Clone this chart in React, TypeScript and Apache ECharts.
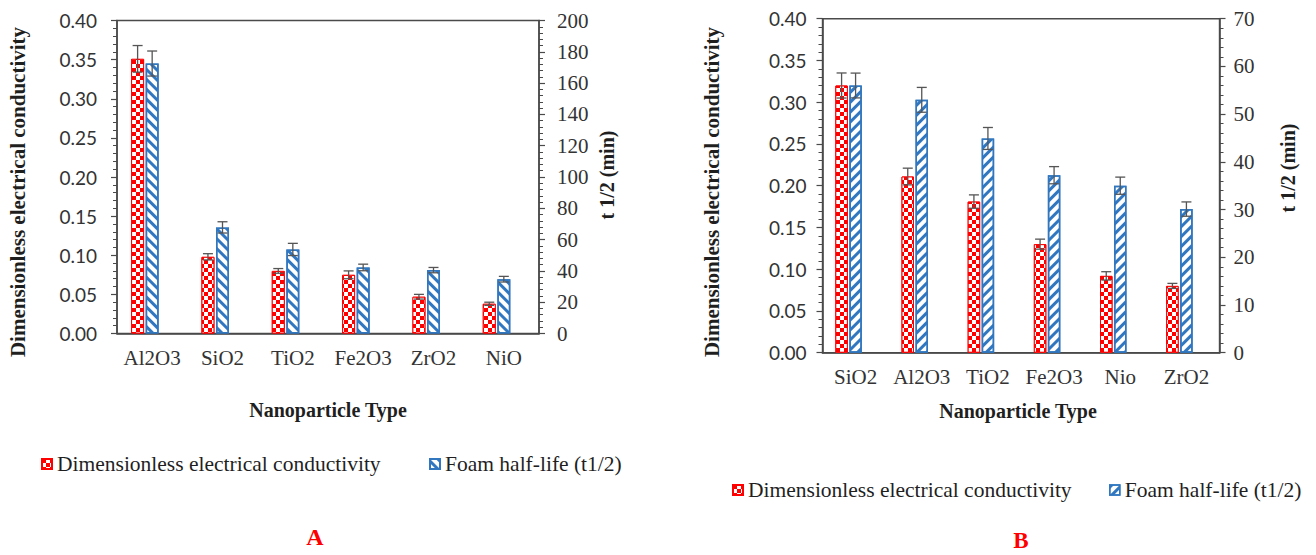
import React, { useEffect, useRef } from "react";
import * as echarts from "echarts";

// ---------- data ----------
const CONDUCT_NAME = "Dimensionless electrical conductivity";
const FOAM_NAME = "Foam half-life (t1/2)";

const catA = ["Al2O3", "SiO2", "TiO2", "Fe2O3", "ZrO2", "NiO"];
const condA = [0.351, 0.098, 0.08, 0.075, 0.047, 0.038];
const condErrA = [0.017, 0.004, 0.003, 0.005, 0.003, 0.002];
const foamA = [172.5, 67.8, 53.7, 42.2, 40.5, 34.7];
const foamErrA = [8, 3.6, 3.9, 2.1, 1.7, 1.8];

const catB = ["SiO2", "Al2O3", "TiO2", "Fe2O3", "Nio", "ZrO2"];
const condB = [0.32, 0.211, 0.181, 0.13, 0.092, 0.08];
const condErrB = [0.015, 0.01, 0.008, 0.006, 0.005, 0.003];
const foamB = [56, 53, 44.9, 37.2, 35, 30.1];
const foamErrB = [2.6, 2.6, 2.3, 1.8, 1.8, 1.5];

// ---------- style ----------
const RED = "#FF0000";
const BLUE = "#3177C0";
const AXIS = "#4a4a4a";
const TXT = "#1f1f1f";
const SERIF = "'Liberation Serif', 'Times New Roman', serif";
const SANS = "Lato, 'Open Sans', sans-serif";
const BAR_A = 13;
const BAR_B = 12.5;
const GAP = 0.12;
const CAP = 5;

const checker = {
  symbol: "rect",
  symbolSize: 1,
  color: "#ffffff",
  dashArrayX: [
    [4, 4],
    [0, 4, 4, 0],
  ],
  dashArrayY: [4, 0],
  rotation: 0,
};
const stripes = (rot: number) => ({
  symbol: "rect",
  symbolSize: 1,
  color: BLUE,
  dashArrayX: [1, 0],
  dashArrayY: [2.4, 3.2],
  rotation: rot,
});
const stripesA = stripes(Math.PI / 4);
const stripesB = stripes(-Math.PI / 4);

function errRender(offset: number) {
  return (_params: any, api: any) => {
    const i = api.value(0);
    const v = api.value(1);
    const e = api.value(2);
    const hi = api.coord([i, v + e]);
    const lo = api.coord([i, v - e]);
    const x = hi[0] + offset;
    const style = { stroke: "#555555", lineWidth: 1.3, fill: null };
    return {
      type: "group",
      children: [
        { type: "line", shape: { x1: x, y1: hi[1], x2: x, y2: lo[1] }, style },
        { type: "line", shape: { x1: x - CAP, y1: hi[1], x2: x + CAP, y2: hi[1] }, style },
        { type: "line", shape: { x1: x - CAP, y1: lo[1], x2: x + CAP, y2: lo[1] }, style },
      ],
    };
  };
}

function catAxis(gridIndex: number, data: string[]) {
  return {
    type: "category",
    gridIndex,
    data,
    axisTick: { show: false },
    axisLine: { lineStyle: { color: AXIS, width: 1.6 } },
    axisLabel: { interval: 0, margin: 14, fontFamily: SERIF, fontSize: 21, color: "#333" },
  };
}

function valAxis(
  gridIndex: number,
  position: string,
  max: number,
  interval: number,
  leftSide: boolean,
  margin: number
) {
  return {
    type: "value",
    gridIndex,
    position,
    min: 0,
    max,
    interval,
    splitLine: { show: false },
    axisLine: { show: true, lineStyle: { color: AXIS, width: 1.6 } },
    axisTick: { show: true, length: 6, lineStyle: { color: AXIS, width: 1.2 } },
    minorTick: { show: true, splitNumber: 5, length: 4, lineStyle: { color: AXIS, width: 1 } },
    axisLabel: leftSide
      ? {
          margin,
          fontFamily: SANS,
          fontSize: 19,
          color: "#333",
          formatter: (v: number) => v.toFixed(2),
        }
      : { margin, fontFamily: SERIF, fontSize: 21, color: "#333" },
  };
}

function barSeries(
  name: string,
  xi: number,
  yi: number,
  data: (number | null)[],
  width: number,
  style: any
) {
  return {
    type: "bar",
    name,
    xAxisIndex: xi,
    yAxisIndex: yi,
    data,
    barWidth: width,
    barGap: `${GAP * 100}%`,
    itemStyle: style,
    z: 2,
  };
}

function errSeries(xi: number, yi: number, vals: number[], errs: number[], offset: number) {
  return {
    type: "custom",
    xAxisIndex: xi,
    yAxisIndex: yi,
    renderItem: errRender(offset),
    data: vals.map((v, i) => [i, v, errs[i]]),
    encode: { x: 0, y: 1 },
    z: 5,
    silent: true,
  };
}

function txt(text: string, x: number, y: number, size: number, rot = 0, color = TXT, bold = true) {
  return {
    type: "text",
    x,
    y,
    rotation: rot,
    style: {
      text,
      fill: color,
      font: `${bold ? "bold " : ""}${size}px ${SERIF}`,
      fontFamily: SERIF,
      fontSize: size,
      fontWeight: bold ? "bold" : "normal",
      textAlign: "center",
      textVerticalAlign: "middle",
      align: "center",
      verticalAlign: "middle",
    },
  };
}

function legend(left: number, top: number, name: string, itemStyle?: any) {
  return {
    left,
    top,
    padding: 0,
    itemWidth: 10,
    itemHeight: 10,
    itemGap: 0,
    selectedMode: false,
    icon: "rect",
    data: [itemStyle ? { name, itemStyle } : { name }],
    textStyle: { fontFamily: SERIF, fontSize: 21.5, color: TXT, lineHeight: 24, padding: [0, 0, 0, 0] },
  };
}

export default function App() {
  const ref = useRef<HTMLDivElement>(null);
  useEffect(() => {
    if (!ref.current) return;
    const chart = echarts.init(ref.current, null, { renderer: "svg" });
    const redStyle = { color: RED, borderColor: RED, borderWidth: 1, decal: checker };
    const blueStyleA = { color: "#ffffff", borderColor: BLUE, borderWidth: 1.5, decal: stripesA };
    const blueStyleB = { color: "#ffffff", borderColor: BLUE, borderWidth: 1.5, decal: stripesB };
    const offA = -(BAR_A + BAR_A * GAP);
    const offB = -(BAR_B + BAR_B * GAP);
    const empty = catA.map(() => null);

    chart.setOption({
      animation: false,
      backgroundColor: "#ffffff",
      grid: [
        { left: 117, top: 20.5, width: 422, height: 313, show: true, borderColor: AXIS, borderWidth: 1.4 },
        { left: 822.5, top: 18.7, width: 397, height: 334, show: true, borderColor: AXIS, borderWidth: 1.4 },
      ],
      xAxis: [catAxis(0, catA), catAxis(1, catB)],
      yAxis: [
        valAxis(0, "left", 0.4, 0.05, true, 20),
        valAxis(0, "right", 200, 20, false, 18),
        valAxis(1, "left", 0.4, 0.05, true, 16),
        valAxis(1, "right", 70, 10, false, 14),
      ],
      legend: [
        legend(41, 452, CONDUCT_NAME),
        legend(429, 452, FOAM_NAME),
        legend(732, 478, CONDUCT_NAME),
        legend(1109, 478, FOAM_NAME, blueStyleB),
      ],
      series: [
        barSeries(CONDUCT_NAME, 0, 0, condA, BAR_A, redStyle),
        barSeries(FOAM_NAME, 0, 1, foamA, BAR_A, blueStyleA),
        barSeries("", 0, 0, empty, BAR_A, { color: "transparent" }),
        barSeries(CONDUCT_NAME, 1, 2, condB, BAR_B, redStyle),
        barSeries(FOAM_NAME, 1, 3, foamB, BAR_B, blueStyleB),
        barSeries("", 1, 2, empty, BAR_B, { color: "transparent" }),
        errSeries(0, 0, condA, condErrA, offA),
        errSeries(0, 1, foamA, foamErrA, 0),
        errSeries(1, 2, condB, condErrB, offB),
        errSeries(1, 3, foamB, foamErrB, 0),
      ],
      graphic: [
        txt(CONDUCT_NAME, 18, 192, 21, Math.PI / 2),
        txt("t 1/2 (min)", 607, 175, 20, Math.PI / 2),
        txt("Nanoparticle Type", 328, 410, 20),
        txt(CONDUCT_NAME, 712, 192, 21, Math.PI / 2),
        txt("t 1/2 (min)", 1288, 168, 20, Math.PI / 2),
        txt("Nanoparticle Type", 1018, 411, 20),
        txt("A", 315, 537, 24, 0, RED),
        txt("B", 1021, 540, 23, 0, RED),
      ],
    });
    return () => chart.dispose();
  }, []);
  return (
    <div
      ref={ref}
      style={{ position: "absolute", left: 0, top: 0, width: 1316, height: 555, background: "#fff" }}
    />
  );
}
